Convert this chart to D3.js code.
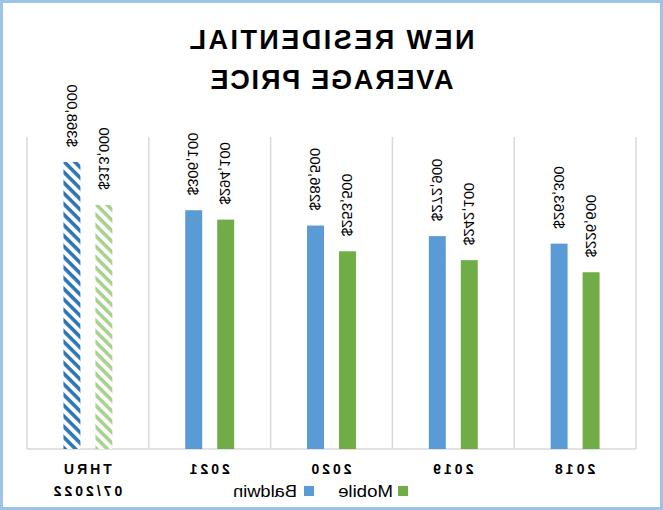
<!DOCTYPE html>
<html>
<head>
<meta charset="utf-8">
<script src="https://cdn.jsdelivr.net/npm/d3@7"></script>
<style>
  html, body { margin: 0; padding: 0; background: #fff; }
  svg { display: block; }
</style>
</head>
<body>
<svg id="chart" width="663" height="510"></svg>
<script>
// ---- data ----
const categories = ["2018", "2019", "2020", "2021", "THRU 07/2022"];
const seriesNames = ["Mobile", "Baldwin"];
const mobileValues = [226600, 242100, 253500, 294100, 313000];
const baldwinValues = [263300, 272900, 286500, 306100, 368000];
const titleLines = ["NEW RESIDENTIAL", "AVERAGE PRICE"];
const yMax = 400000;

const W = 663, H = 510;
const svg = d3.select("#chart");

// whole reference is a mirror image; draw normally, then flip
const root = svg.append("g").attr("transform", `translate(${W},0) scale(-1,1)`);

// border
root.append("rect").attr("x", 1.5).attr("y", 1.5).attr("width", W - 3).attr("height", H - 3)
  .attr("fill", "#fff").attr("stroke", "#9dc3e6").attr("stroke-width", 3);

const plot = { left: 27, right: 636, top: 137, bottom: 449 };

const x0 = d3.scaleBand().domain(categories).range([plot.left, plot.right]).paddingInner(0).paddingOuter(0);
const x1 = d3.scaleBand().domain(seriesNames).range([0, x0.bandwidth()]).paddingInner(0.47).paddingOuter(1.14);
const y = d3.scaleLinear().domain([0, yMax]).range([plot.bottom, plot.top]);

// patterns for partial-year bars
const defs = svg.append("defs");
function hatch(id, color) {
  const p = defs.append("pattern").attr("id", id).attr("patternUnits", "userSpaceOnUse")
    .attr("width", 7.5).attr("height", 7.5).attr("patternTransform", "rotate(-45)");
  p.append("rect").attr("width", 7.5).attr("height", 7.5).attr("fill", "#fff");
  p.append("rect").attr("width", 7.5).attr("height", 3.6).attr("fill", color);
}
hatch("hatchBlue", "#2e75b6");
hatch("hatchGreen", "#a9d18e");

// gridlines at category boundaries
const bounds = categories.map(c => x0(c)).concat([plot.right]);
root.append("g").selectAll("line").data(bounds).join("line")
  .attr("x1", d => d).attr("x2", d => d).attr("y1", plot.top).attr("y2", plot.bottom)
  .attr("stroke", "#d9d9d9").attr("stroke-width", 1.5);
root.append("line").attr("x1", plot.left).attr("x2", plot.right)
  .attr("y1", plot.bottom).attr("y2", plot.bottom)
  .attr("stroke", "#d9d9d9").attr("stroke-width", 1.5);

const colors = { Mobile: "#70ad47", Baldwin: "#5b9bd5" };
const data = categories.map((c, i) => ({ cat: c, Mobile: mobileValues[i], Baldwin: baldwinValues[i], partial: i === categories.length - 1 }));

const groups = root.append("g").selectAll("g").data(data).join("g")
  .attr("transform", d => `translate(${x0(d.cat)},0)`);

groups.selectAll("rect").data(d => seriesNames.map(s => ({ s, v: d[s], partial: d.partial }))).join("rect")
  .attr("x", d => x1(d.s)).attr("width", x1.bandwidth())
  .attr("y", d => y(d.v)).attr("height", d => y(0) - y(d.v))
  .attr("fill", d => d.partial ? (d.s === "Baldwin" ? "url(#hatchBlue)" : "url(#hatchGreen)") : colors[d.s]);

const fmt = d3.format("$,");
groups.selectAll("text.lbl").data(d => seriesNames.map(s => ({ s, v: d[s] }))).join("text")
  .attr("class", "lbl")
  .attr("transform", d => `translate(${x1(d.s) + x1.bandwidth() / 2},${y(d.v) - 15}) rotate(-90)`)
  .attr("dy", "0.35em")
  .attr("text-anchor", "start")
  .attr("font-family", "Liberation Sans, Arial, sans-serif")
  .attr("font-size", 15)
  .attr("fill", "#000")
  .text(d => fmt(d.v));

// category labels
const catG = root.append("g");
data.forEach(d => {
  const cx = x0(d.cat) + x0.bandwidth() / 2;
  const parts = d.cat.split(" ");
  parts.forEach((p, j) => {
    catG.append("text")
      .attr("x", cx + 1.5).attr("y", 474 + j * 22)
      .attr("text-anchor", "middle")
      .attr("font-family", "Liberation Sans, Arial, sans-serif")
      .attr("font-weight", "bold").attr("font-size", 14)
      .attr("letter-spacing", 3)
      .attr("fill", "#000")
      .text(p);
  });
});

// title
titleLines.forEach((t, i) => {
  root.append("text")
    .attr("x", 331).attr("y", 49 + i * 39.5)
    .attr("text-anchor", "middle")
    .attr("font-family", "Liberation Sans, Arial, sans-serif")
    .attr("font-weight", "bold").attr("font-size", 27)
    .attr("textLength", i === 0 ? 285 : 243)
    .attr("lengthAdjust", "spacing")
    .attr("fill", "#000")
    .text(t);
});

// legend
const legendItems = [
  { s: "Mobile", box: 255, tx: 270, len: 55 },
  { s: "Baldwin", box: 349, tx: 366, len: 64 }
];
const lg = root.append("g");
legendItems.forEach(it => {
  lg.append("rect").attr("x", it.box).attr("y", 486).attr("width", 10).attr("height", 10)
    .attr("fill", colors[it.s]);
  lg.append("text").attr("x", it.tx).attr("y", 497)
    .attr("font-family", "Liberation Sans, Arial, sans-serif")
    .attr("font-size", 16)
    .attr("textLength", it.len).attr("lengthAdjust", "spacingAndGlyphs")
    .attr("fill", "#000")
    .text(it.s);
});
</script>
</body>
</html>
